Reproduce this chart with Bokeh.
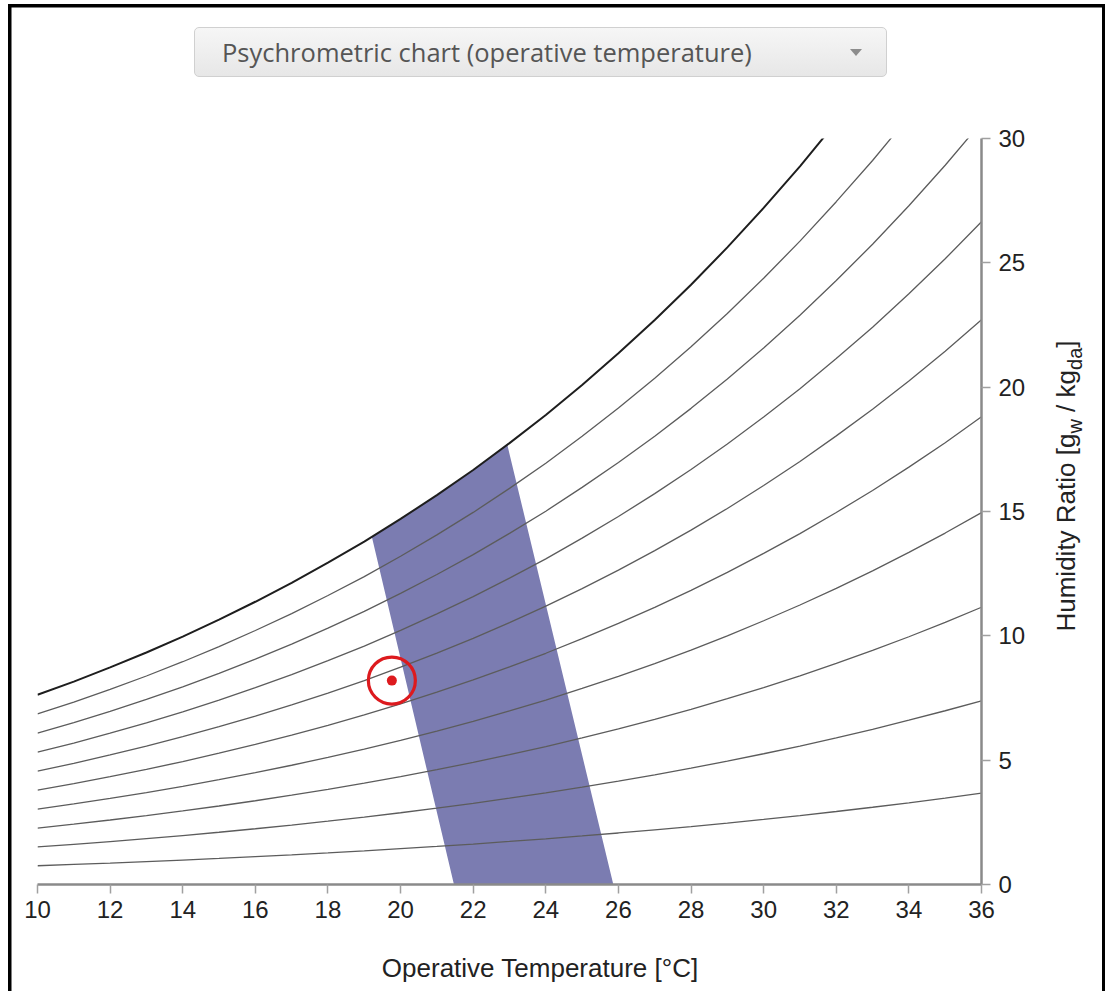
import numpy as np
from bokeh.plotting import figure
from bokeh.models import FixedTicker, Range1d, Div
from bokeh.layouts import column, row
from bokeh.embed import file_html
from bokeh.resources import INLINE

# ---------------- data ----------------
temps = [10, 11, 12, 13, 14, 15, 16, 17, 18, 19, 20, 21, 22, 23,
         24, 25, 26, 27, 28, 29, 30, 31, 32, 33, 34, 35, 36]
# humidity ratio at saturation (g_w / kg_da)
w_sat = [7.63, 8.16, 8.73, 9.33, 9.97, 10.65, 11.37, 12.13, 12.94, 13.79,
         14.70, 15.66, 16.67, 17.75, 18.88, 20.09, 21.36, 22.70, 24.12,
         25.62, 27.21, 28.88, 30.66, 32.52, 34.50, 36.58, 38.79]
rh_levels = [10, 20, 30, 40, 50, 60, 70, 80, 90]
pressure_kpa = 101.325

# comfort zone outline (operative temperature, humidity ratio)
comfort_t = [21.47, 19.21, 20.0, 21.0, 22.0, 22.94, 25.86]
comfort_w = [0.0, 13.97, 14.70, 15.66, 16.67, 17.68, 0.0]

# current condition
point_t = [19.76]
point_w = [8.2]

x_ticks = [10, 12, 14, 16, 18, 20, 22, 24, 26, 28, 30, 32, 34, 36]
y_ticks = [0, 5, 10, 15, 20, 25, 30]

TOTAL_W = 1105
TOP_H = 110
FIG_W, FIG_H = 1040, 825

# ---------------- figure ----------------
p = figure(width=FIG_W, height=FIG_H, output_backend="svg", toolbar_location=None,
           x_range=Range1d(10, 36), y_range=Range1d(0, 30),
           x_axis_location="below", y_axis_location="right",
           min_border_left=37, min_border_right=59,
           min_border_top=28, min_border_bottom=51)
p.border_fill_color = None
p.background_fill_color = "white"
p.outline_line_color = None
p.xgrid.visible = False
p.ygrid.visible = False

# comfort zone
p.patch(comfort_t, comfort_w, fill_color="#7b7cb1", line_color=None)

# relative humidity curves derived from the saturation curve
ws = np.array(w_sat) / 1000.0
ps_sat = pressure_kpa * ws / (0.621945 + ws)
for rh in rh_levels:
    ph = rh / 100.0 * ps_sat
    w_rh = 621.945 * ph / (pressure_kpa - ph)
    p.line(temps, list(w_rh), line_color="#5c5c5c", line_width=1.3)
p.line(temps, w_sat, line_color="#1e1e1e", line_width=2)

# marker
p.scatter(point_t, point_w, marker="circle", size=47, fill_color=None,
          line_color="#dd1a1e", line_width=3.2)
p.scatter(point_t, point_w, marker="circle", size=10, fill_color="#dd1a1e",
          line_color=None)

# axes
for ax in (p.xaxis[0], p.yaxis[0]):
    ax.axis_line_color = "#8a8a8a"
    ax.axis_line_width = 2.5
    ax.major_tick_line_color = "#a0a0a0"
    ax.major_tick_line_width = 1.5
    ax.major_tick_out = 9
    ax.major_tick_in = 0
    ax.minor_tick_line_color = None
    ax.major_label_text_font = "Liberation Sans"
    ax.major_label_text_font_size = "24px"
    ax.major_label_text_color = "#222222"
p.xaxis.ticker = FixedTicker(ticks=x_ticks)
p.yaxis.ticker = FixedTicker(ticks=y_ticks)
p.xaxis.major_label_standoff = 7
p.yaxis.major_label_standoff = 8

# ---------------- html parts ----------------
dd_html = (
    '<div style="padding:27px 0 0 194px;">'
    '<div style="position:relative; box-sizing:border-box; width:693px; height:50px;'
    ' border:1px solid #d0d0d0; border-radius:5px;'
    ' background:linear-gradient(#f6f6f6,#e7e7e7); font-family:\'Open Sans\';'
    ' font-size:25.5px; line-height:48px; color:#555; padding-left:27px; white-space:nowrap;">'
    'Psychrometric chart (operative temperature)'
    '<div style="position:absolute; right:24px; top:21px; width:0; height:0;'
    ' border-left:6px solid transparent; border-right:6px solid transparent;'
    ' border-top:7px solid #8c8c8c;"></div></div></div>'
)
div_top = Div(text=dd_html, width=TOTAL_W, height=TOP_H, margin=0)

ylab_html = (
    '<div style="position:relative; width:65px; height:825px;">'
    '<div style="position:absolute; left:27px; top:376px;">'
    '<div style="position:absolute; transform:translate(-50%,-50%) rotate(-90deg);'
    ' white-space:nowrap; font-family:\'Liberation Sans\'; font-size:26px;'
    ' line-height:30px; color:#222;">'
    'Humidity Ratio [g<span style="font-size:20px; position:relative; top:7px;">w</span>'
    ' / kg<span style="font-size:20px; position:relative; top:7px;">da</span>]'
    '</div></div></div>'
)
div_ylab = Div(text=ylab_html, width=TOTAL_W - FIG_W, height=FIG_H, margin=0)

xlab_html = (
    '<div style="position:relative; width:1105px; height:56px;">'
    '<div style="position:absolute; left:540px; top:33px;">'
    '<div style="position:absolute; transform:translate(-50%,-50%);'
    ' white-space:nowrap; font-family:\'Liberation Sans\'; font-size:26px;'
    ' line-height:30px; color:#222;">Operative Temperature [°C]</div></div></div>'
)
div_xlab = Div(text=xlab_html, width=TOTAL_W, height=991 - TOP_H - FIG_H, margin=0)

border_bg = ("linear-gradient(#000,#000) 7.5px 3.5px / 3.5px 100% no-repeat, "
             "linear-gradient(#000,#000) 7.5px 3.5px / 100% 3.5px no-repeat, "
             "linear-gradient(#000,#000) right 0px top 3.5px / 3px 100% no-repeat")

root = column(div_top, row(p, div_ylab, spacing=0), div_xlab, spacing=0,
              styles={"background": border_bg})

open("out.html", "w").write(file_html(root, INLINE))
